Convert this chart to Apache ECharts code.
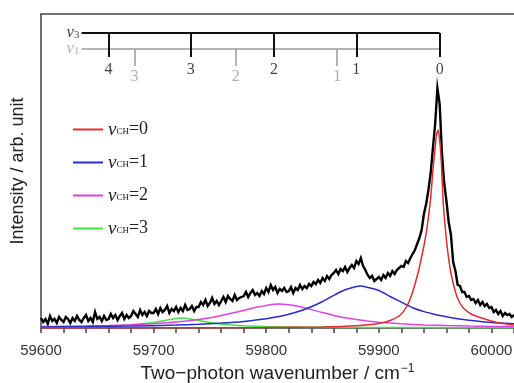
<!DOCTYPE html>
<html>
<head>
<meta charset="utf-8">
<script src="https://cdn.jsdelivr.net/npm/echarts@6/dist/echarts.min.js"></script>
<style>
  html, body { margin: 0; padding: 0; background: #fff; }
  #chart { width: 514px; height: 383px; }
</style>
</head>
<body>
<div id="chart"></div>
<script>
// measured spectrum, one value every 2 cm-1 from 59600
const waveStart = 59600;
const waveStep = 2;
const spectrum = [
  10, 6, 9, 4, 12, 7, 9, 5, 11, 8,
  6, 11, 9, 5, 10, 7, 12, 8, 6, 10,
  13, 7, 10, 6, 16, 9, 11, 7, 12, 8,
  9, 14, 10, 13, 8, 12, 15, 9, 13, 10,
  12, 17, 14, 11, 18, 13, 16, 12, 17, 15,
  15, 19, 14, 20, 16, 18, 22, 15, 19, 17,
  21, 16, 20, 17, 23, 18, 19, 22, 17, 21,
  21, 26, 23, 28, 22, 25, 30, 24, 27, 23,
  27, 31, 26, 32, 29, 27, 33, 28, 30, 31,
  32, 36, 31, 35, 38, 33, 35, 32, 37, 34,
  40, 36, 43, 38, 41, 35, 39, 37, 40, 36,
  37, 41, 35, 40, 38, 43, 39, 42, 40, 44,
  42, 46, 44, 48, 45, 50, 47, 52, 49, 53,
  55, 58, 54, 59, 57, 61, 56, 60, 63, 60,
  67, 64, 70, 62, 58, 53, 50, 52, 47, 49,
  51, 48, 53, 50, 55, 52, 57, 54, 58, 60,
  62, 61, 67, 65, 70, 74, 78, 84, 90, 98,
  114, 124, 138, 155, 180, 204, 240, 224, 175, 145,
  127, 106, 93, 66, 57, 43, 42, 36, 36, 31,
  32, 28, 29, 25, 28, 23, 26, 22, 24, 20,
  21, 16, 18, 14, 17, 12, 15, 13, 14, 11,
  13
];

// fitted components [wavenumber, intensity]
const fitCH0 = [
  [59600, 0.1], [59700, 0.2], [59800, 0.5], [59850, 1.1], [59880, 2.3], [59900, 4.5],
  [59910, 7.5], [59919, 13], [59925, 22], [59930, 36], [59935, 56], [59937, 66],
  [59940, 82], [59943, 102], [59946, 130], [59948, 158], [59950, 180], [59951, 192],
  [59952.6, 198], [59954, 188], [59955.5, 165], [59957, 128], [59959, 100], [59961, 78],
  [59964, 55], [59968, 36], [59971, 27], [59975, 20], [59982, 14], [59990, 10.5],
  [60005, 5.5], [60020, 3]
];
const fitCH1 = [
  [59600, 1.0], [59640, 1.4], [59680, 1.9], [59720, 2.9], [59740, 3.7], [59760, 4.9],
  [59780, 6.6], [59800, 9.3], [59810, 11.2], [59820, 13.8], [59830, 17.0], [59840, 21.2],
  [59850, 26.5], [59860, 32.6], [59870, 38.2], [59880, 41.6], [59884, 42], [59890, 40.6],
  [59900, 37.5], [59910, 31.5], [59920, 25.8], [59930, 20.3], [59940, 16.4], [59950, 13.5],
  [59960, 11.2], [59970, 9.2], [59980, 7.7], [60000, 5.4], [60020, 4.2]
];
const fitCH2 = [
  [59600, 1.4], [59620, 1.7], [59640, 2.0], [59660, 2.5], [59680, 3.2], [59700, 4.3],
  [59720, 5.9], [59740, 8.4], [59750, 10.2], [59760, 12.5], [59770, 14.9], [59780, 17.6],
  [59790, 20.4], [59800, 22.6], [59811, 24], [59820, 23.3], [59830, 21.3], [59840, 18.4],
  [59850, 15.4], [59860, 12.6], [59870, 10.3], [59880, 8.5], [59890, 7.0], [59900, 5.8],
  [59920, 4.2], [59940, 3.1], [59960, 2.4], [59980, 1.9], [60000, 1.6], [60020, 1.4]
];
const fitCH3 = [
  [59600, 0.8], [59620, 1.0], [59640, 1.4], [59660, 2.0], [59680, 3.2], [59690, 4.2],
  [59700, 5.4], [59710, 7.4], [59720, 9.6], [59725, 10], [59730, 9.6], [59740, 7.6],
  [59750, 5.6], [59760, 4.0], [59770, 2.9], [59780, 2.2], [59800, 1.4], [59830, 0.9],
  [59870, 0.6], [59920, 0.45], [59970, 0.35], [60020, 0.3]
];

// progression combs
const combStart = 59636;
const v3Positions = [59660, 59733, 59807, 59880, 59954];
const v3Labels = ['4', '3', '2', '1', '0'];
const v1Positions = [59683, 59773, 59863];
const v1Labels = ['3', '2', '1'];

const fitNames = ['vCH=0', 'vCH=1', 'vCH=2', 'vCH=3'];
const fitColors = ['#e42a2a', '#2a2ad2', '#e040e4', '#44e044'];
const fitData = [fitCH0, fitCH1, fitCH2, fitCH3];

// comb layout (intensity units)
const v3Y = 295, v3TickEnd = 271, v3LabelY = 258;
const v1Y = 279, v1TickEnd = 262, v1LabelY = 251;

const spectrumData = spectrum.map((v, i) => [waveStart + i * waveStep, v]);

const chart = echarts.init(document.getElementById('chart'));

const serif = '"Liberation Serif", "DejaVu Serif", serif';
const sans = '"Liberation Sans", Arial, sans-serif';

const combEnd = v3Positions[v3Positions.length - 1];
const v3Lines = [{ coords: [[combStart, v3Y], [combEnd, v3Y]] }]
  .concat(v3Positions.map(x => ({ coords: [[x, v3Y], [x, v3TickEnd]] })));
const v1Lines = [{ coords: [[combStart, v1Y], [combEnd, v1Y]] }]
  .concat(v1Positions.map(x => ({ coords: [[x, v1Y], [x, v1TickEnd]] })));

function combLabels(positions, labels, y, color, sideY, sub) {
  return {
    type: 'scatter',
    symbolSize: 0,
    silent: true,
    data: positions.map((x, i) => ({ value: [x, y], name: labels[i] }))
      .concat([{
        value: [combStart, sideY],
        name: 'v' + sub,
        label: { position: 'left', distance: 2, formatter: '{i|v}{sub|' + sub + '}' }
      }]),
    label: {
      show: true,
      position: 'inside',
      formatter: p => p.name,
      fontFamily: serif,
      fontSize: 16,
      color: color,
      rich: {
        i: { fontFamily: serif, fontStyle: 'italic', fontSize: 17, color: color },
        sub: { fontFamily: serif, fontSize: 11, color: color, padding: [5, 0, 0, 0] }
      }
    },
    z: 10
  };
}

const option = {
  animation: false,
  grid: { left: 41, right: 0, top: 14, bottom: 55, outerBoundsMode: 'none', containLabel: false },
  legend: {
    data: fitNames,
    orient: 'vertical',
    left: 73,
    top: 120,
    padding: 0,
    itemWidth: 30,
    itemHeight: 2,
    itemGap: 14,
    icon: 'rect',
    formatter: name => '{v|v}{s|CH}{t|' + name.slice(3) + '}',
    textStyle: {
      color: '#222',
      rich: {
        v: { fontFamily: serif, fontStyle: 'italic', fontSize: 19, color: '#222' },
        s: { fontFamily: serif, fontSize: 9, color: '#222', padding: [4, 0, 0, 0] },
        t: { fontFamily: serif, fontSize: 18, color: '#222' }
      }
    }
  },
  xAxis: [
    {
      type: 'value',
      min: 59600,
      max: 60020,
      interval: 20,
      name: 'Two\u2212photon wavenumber / cm{sup|\u22121}',
      nameLocation: 'middle',
      nameGap: 35,
      nameTextStyle: {
        fontFamily: sans, fontSize: 19, color: '#222',
        rich: { sup: { fontFamily: sans, fontSize: 12, color: '#222', verticalAlign: 'top', padding: [0, 0, 10, 1] } }
      },
      axisLine: { lineStyle: { color: '#444', width: 1.5 } },
      axisTick: { inside: false, length: 5, lineStyle: { color: '#444', width: 1.5 } },
      axisLabel: {
        margin: 15,
        fontFamily: sans,
        fontSize: 15,
        color: '#333',
        formatter: v => (v % 100 === 0 ? String(v) : '')
      },
      splitLine: { show: false }
    },
    {
      type: 'value',
      position: 'top',
      min: 59600,
      max: 60020,
      axisLine: { show: true, lineStyle: { color: '#444', width: 1.5 } },
      axisTick: { show: false },
      axisLabel: { show: false },
      splitLine: { show: false }
    }
  ],
  yAxis: {
    type: 'value',
    min: 0,
    max: 314,
    name: 'Intensity / arb. unit',
    nameLocation: 'middle',
    nameGap: 14,
    nameTextStyle: { fontFamily: sans, fontSize: 18, color: '#222' },
    axisLine: { show: true, lineStyle: { color: '#444', width: 1.5 } },
    axisTick: { show: false },
    axisLabel: { show: false },
    splitLine: { show: false }
  },
  series: [
    {
      name: 'spectrum',
      type: 'line',
      data: spectrumData,
      showSymbol: false,
      lineStyle: { color: '#000', width: 2.4, join: 'miter' },
      z: 2
    },
    ...fitNames.map((name, i) => ({
      name: name,
      type: 'line',
      data: fitData[i],
      smooth: 0.2,
      showSymbol: false,
      itemStyle: { color: fitColors[i] },
      lineStyle: { color: fitColors[i], width: 1.5 },
      z: 3 + (3 - i)
    })),
    {
      type: 'lines',
      coordinateSystem: 'cartesian2d',
      data: v1Lines,
      lineStyle: { color: '#9a9a9a', width: 1.5, opacity: 1 },
      silent: true,
      z: 8
    },
    {
      type: 'lines',
      coordinateSystem: 'cartesian2d',
      data: v3Lines,
      lineStyle: { color: '#111', width: 2, opacity: 1 },
      silent: true,
      z: 9
    },
    combLabels(v3Positions, v3Labels, v3LabelY, '#111', v3Y, '3'),
    combLabels(v1Positions, v1Labels, v1LabelY, '#9a9a9a', v1Y, '1')
  ]
};

chart.setOption(option);
</script>
</body>
</html>
